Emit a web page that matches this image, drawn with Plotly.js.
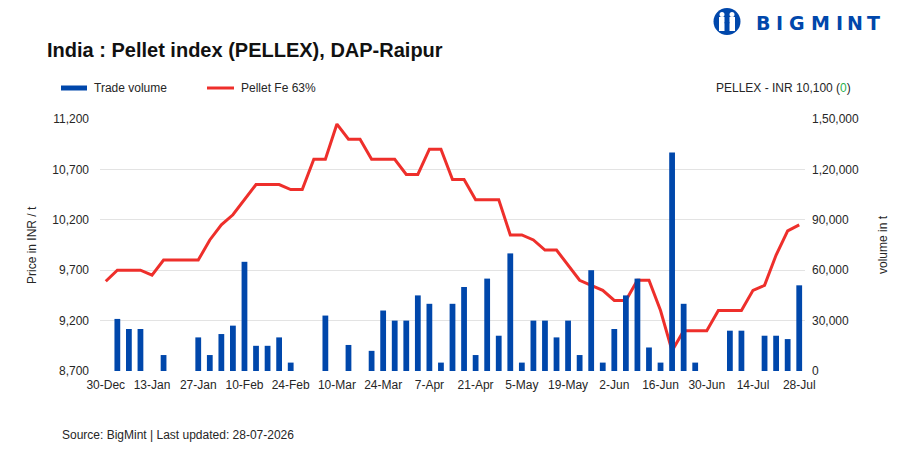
<!DOCTYPE html>
<html>
<head>
<meta charset="utf-8">
<script src="https://cdn.plot.ly/plotly-3.0.1.min.js"></script>
<style>
html,body{margin:0;padding:0;background:#fff;}
#chart{width:907px;height:453px;}
</style>
</head>
<body>
<div id="chart"></div>
<script>
// ---- data ----
var dates = ["30-Dec","2-Jan","6-Jan","9-Jan","13-Jan","16-Jan","20-Jan","23-Jan","27-Jan","30-Jan",
"3-Feb","6-Feb","10-Feb","13-Feb","17-Feb","20-Feb","24-Feb","27-Feb","3-Mar","6-Mar",
"10-Mar","13-Mar","17-Mar","20-Mar","24-Mar","27-Mar","31-Mar","3-Apr","7-Apr","10-Apr",
"14-Apr","17-Apr","21-Apr","24-Apr","28-Apr","1-May","5-May","8-May","12-May","15-May",
"19-May","22-May","26-May","29-May","2-Jun","5-Jun","9-Jun","12-Jun","16-Jun","19-Jun",
"23-Jun","26-Jun","30-Jun","3-Jul","7-Jul","10-Jul","14-Jul","17-Jul","21-Jul","24-Jul","28-Jul"];

var pelletPrice = [9590,9700,9700,9700,9650,9800,9800,9800,9800,10000,
10150,10250,10400,10550,10550,10550,10500,10500,10800,10800,
11150,11000,11000,10800,10800,10800,10650,10650,10900,10900,
10600,10600,10400,10400,10400,10050,10050,10000,9900,9900,
9750,9600,9550,9500,9400,9400,9600,9600,9300,8900,
9100,9100,9100,9300,9300,9300,9500,9550,9850,10090,10150];

var tradeVolume = [null,31000,25000,25000,null,9500,null,null,20000,9500,
22000,27000,65000,15000,15000,20000,5000,null,null,33000,
null,15500,null,12000,36000,30000,30000,45000,40000,5000,
40000,50000,9500,55000,21000,70000,5000,30000,30000,20000,
30000,9500,60000,5000,25000,45000,55000,14000,5000,130000,
40000,5000,null,null,24000,24000,null,21000,21000,19000,51000];

var xTickLabels = ["30-Dec","13-Jan","27-Jan","10-Feb","24-Feb","10-Mar","24-Mar","7-Apr",
"21-Apr","5-May","19-May","2-Jun","16-Jun","30-Jun","14-Jul","28-Jul"];
var priceTicks = [8700,9200,9700,10200,10700,11200];
var priceTickText = ["8,700","9,200","9,700","10,200","10,700","11,200"];
var volumeTicks = [0,30000,60000,90000,120000,150000];
var volumeTickText = ["0","30,000","60,000","90,000","1,20,000","1,50,000"];

var logoLetters = ["B","I","G","M","I","N","T"];
var logoLetterX = [762.5,779.5,796.5,820.5,839.5,854.5,873.5]; // pixel centres

// ---- layout helpers (pixel -> paper) ----
var L = 100, R = 805, T = 119, B = 371;
function px(x){ return (x - L) / (R - L); }
function py(y){ return (B - y) / (B - T); }

var BLUE = "#0047ab", RED = "#ee2f2b", TXT = "#262626";
var FONT = "Liberation Sans, Arial, sans-serif";

var traces = [
  {type:"bar", x:dates, y:tradeVolume, yaxis:"y2", name:"Trade volume",
   marker:{color:BLUE}, hoverinfo:"skip"},
  {type:"scatter", mode:"lines", x:dates, y:pelletPrice, yaxis:"y", name:"Pellet Fe 63%",
   line:{color:RED, width:3}, hoverinfo:"skip"}
];

var annotations = [
  {xref:"paper", yref:"paper", x:px(92), y:py(88), xanchor:"left", yanchor:"middle",
   text:"Trade volume", showarrow:false, font:{size:12, color:TXT}},
  {xref:"paper", yref:"paper", x:px(239), y:py(88), xanchor:"left", yanchor:"middle",
   text:"Pellet Fe 63%", showarrow:false, font:{size:12, color:TXT}},
  {xref:"paper", yref:"paper", x:px(714), y:py(88), xanchor:"left", yanchor:"middle",
   text:"PELLEX - INR 10,100 (<span style=\"color:#2bb14c\">0</span>)", showarrow:false,
   font:{size:12, color:TXT}},
  {xref:"paper", yref:"paper", x:px(32), y:py(245), xanchor:"center", yanchor:"middle",
   text:"Price in INR / t", textangle:-90, showarrow:false, font:{size:12, color:TXT}},
  {xref:"paper", yref:"paper", x:px(883), y:py(245), xanchor:"center", yanchor:"middle",
   text:"volume in t", textangle:-90, showarrow:false, font:{size:12, color:TXT}},
  {xref:"paper", yref:"paper", x:px(60), y:py(435), xanchor:"left", yanchor:"middle",
   text:"Source: BigMint | Last updated: 28-07-2026", showarrow:false, font:{size:12, color:TXT}}
];
logoLetters.forEach(function(ch, k){
  annotations.push({xref:"paper", yref:"paper", x:px(logoLetterX[k]), y:py(23),
    xanchor:"center", yanchor:"middle", text:"<b>"+ch+"</b>", showarrow:false,
    font:{size:19, color:BLUE, family:"DejaVu Sans, Liberation Sans, sans-serif"}});
});

var layout = {
  width:907, height:453,
  margin:{l:L, r:907-R, t:T, b:453-B},
  paper_bgcolor:"#fff", plot_bgcolor:"#fff",
  showlegend:false,
  bargap:0.5,
  font:{family:FONT, size:12, color:TXT},
  title:{text:"<b>India : Pellet index (PELLEX), DAP-Raipur</b>",
         font:{family:FONT, size:20, color:"#111"},
         xref:"container", x:47/907, xanchor:"left",
         yref:"container", y:1-50/453, yanchor:"middle"},
  xaxis:{type:"category", categoryorder:"array", categoryarray:dates,
         range:[-0.5, dates.length-0.5],
         tickmode:"array", tickvals:xTickLabels, ticktext:xTickLabels,
         showgrid:false, zeroline:false, showline:false, ticks:"",
         tickfont:{size:12, color:TXT}, ticklabelstandoff:5, fixedrange:true},
  yaxis:{range:[8700,11200], tickmode:"array", tickvals:priceTicks, ticktext:priceTickText,
         showgrid:true, gridcolor:"#e3e3e3", gridwidth:1, zeroline:false, showline:false,
         ticks:"", tickfont:{size:12, color:TXT}, ticklabelstandoff:10},
  yaxis2:{range:[0,150000], overlaying:"y", side:"right", tickmode:"array",
          tickvals:volumeTicks, ticktext:volumeTickText,
          showgrid:false, zeroline:false, showline:false, ticks:"",
          tickfont:{size:12, color:TXT}, ticklabelstandoff:6},
  shapes:[
    // legend symbols
    {type:"rect", xref:"paper", yref:"paper", x0:px(61), x1:px(87), y0:py(90.5), y1:py(85.5),
     fillcolor:BLUE, line:{width:0}},
    {type:"line", xref:"paper", yref:"paper", x0:px(207), x1:px(234), y0:py(88), y1:py(88),
     line:{color:RED, width:3}},
    // logo icon
    {type:"circle", xref:"paper", yref:"paper", x0:px(713.5), x1:px(740.5), y0:py(35), y1:py(8),
     fillcolor:BLUE, line:{width:0}},
    {type:"rect", xref:"paper", yref:"paper", x0:px(719), x1:px(724.5), y0:py(31), y1:py(17),
     fillcolor:"#fff", line:{width:0}},
    {type:"rect", xref:"paper", yref:"paper", x0:px(729.5), x1:px(735), y0:py(31), y1:py(17),
     fillcolor:"#fff", line:{width:0}},
    {type:"circle", xref:"paper", yref:"paper", x0:px(719.5), x1:px(724.5), y0:py(17), y1:py(12),
     fillcolor:"#fff", line:{width:0}},
    {type:"circle", xref:"paper", yref:"paper", x0:px(729.5), x1:px(734.5), y0:py(17), y1:py(12),
     fillcolor:"#fff", line:{width:0}},
    {type:"path", xref:"paper", yref:"paper",
     path:"M "+px(724.5)+" "+py(22)+" L "+px(727)+" "+py(31)+" L "+px(729.5)+" "+py(22)+" Z",
     fillcolor:BLUE, line:{width:0}}
  ],
  annotations:annotations
};

Plotly.newPlot("chart", traces, layout, {staticPlot:true, displayModeBar:false});
</script>
</body>
</html>
